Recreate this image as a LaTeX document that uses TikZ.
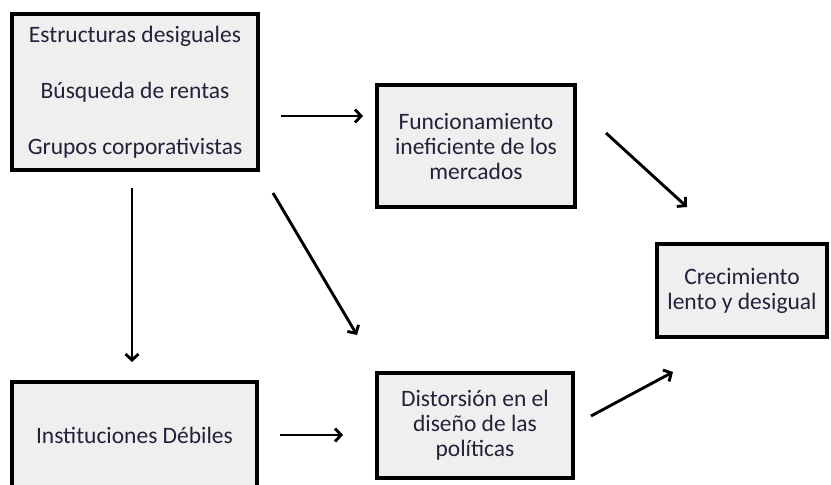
\documentclass[tikz,border=0pt]{standalone}
\usepackage{fontspec}
\setmainfont{Carlito}
\usepackage{tikz}
\usetikzlibrary{arrows.meta,shadows}
\definecolor{boxgray}{HTML}{EFEFEF}
\definecolor{textdark}{HTML}{22223A}

\begin{document}
\begin{tikzpicture}[x=1pt,y=-1pt]
  \tikzstyle{BoxStyle}=[draw,line width=3.2pt,fill=boxgray,align=center,
    inner sep=0pt,text=textdark,font=\fontsize{23.5}{25}\selectfont,
    drop shadow={opacity=0.25,shadow xshift=1.2pt,shadow yshift=-1.2pt}]
  \tikzstyle{ArrowStyle}=[line width=2.9pt,-{Straight Barb[length=6pt,width=13pt]}]
  \clip (0,0) rectangle (831,485);
  % boxes
  \node[BoxStyle,minimum width=246pt,minimum height=156pt] (causas) at (135,92)
    {Estructuras desiguales\\[31pt]B\'usqueda de rentas\\[31pt]Grupos corporativistas};
  \node[BoxStyle,minimum width=198pt,minimum height=122pt] (mercados) at (476,146)
    {Funcionamiento\\ineficiente de los\\mercados};
  \node[BoxStyle,minimum width=170pt,minimum height=93pt] (crec) at (742,290.5)
    {Crecimiento\\lento y desigual};
  \node[BoxStyle,minimum width=245pt,minimum height=106pt] (inst) at (134.5,435)
    {Instituciones D\'ebiles};
  \node[BoxStyle,minimum width=196pt,minimum height=105pt] (politicas) at (475,425.5)
    {Distorsi\'on en el\\dise\~no de las\\pol\'iticas};
  % arrow ends
  \coordinate (c1) at (281,116);   \coordinate (m1) at (363,116);
  \coordinate (c2) at (273,193);   \coordinate (p1) at (357,335);
  \coordinate (c3) at (132,188);   \coordinate (i1) at (132,362);
  \coordinate (i2) at (280,435);   \coordinate (p2) at (343,435);
  \coordinate (m2) at (606,133);   \coordinate (r1) at (687,207);
  \coordinate (p3) at (591,416);   \coordinate (r2) at (673,372);
  \draw[ArrowStyle] (c1) -- (m1);
  \draw[ArrowStyle] (c2) -- (p1);
  \draw[ArrowStyle] (c3) -- (i1);
  \draw[ArrowStyle] (i2) -- (p2);
  \draw[ArrowStyle] (m2) -- (r1);
  \draw[ArrowStyle] (p3) -- (r2);
\end{tikzpicture}
\end{document}
